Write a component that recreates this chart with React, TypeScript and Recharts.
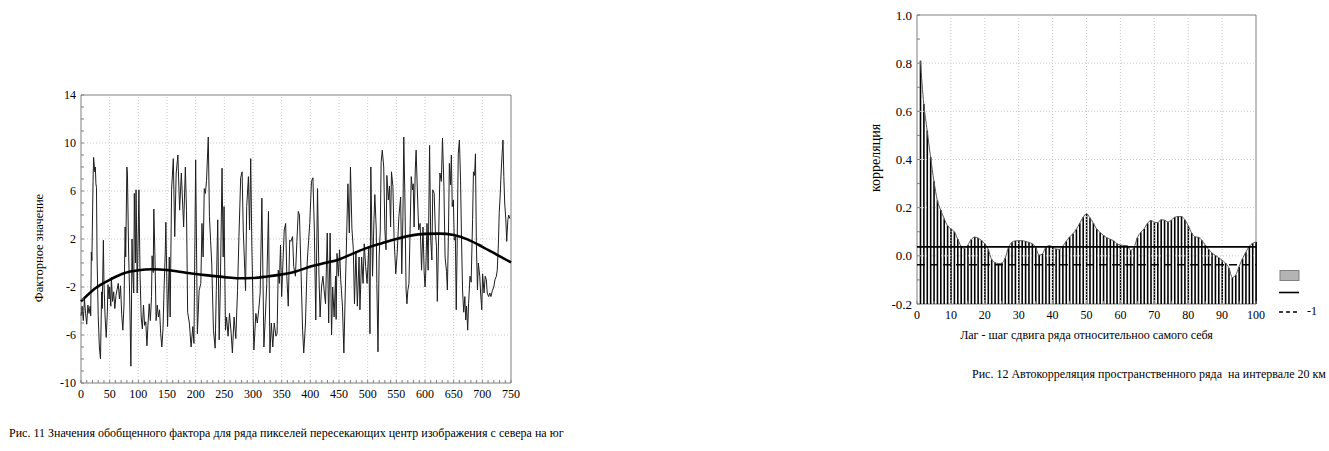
import React from 'react';
import { LineChart, Line, ComposedChart, Bar, XAxis, YAxis, ReferenceLine, ReferenceArea } from 'recharts';

const FONT = '"Liberation Serif", "Times New Roman", serif';
const FRAME = '#7f7f7f';
const GRID = '#c8c8c8';

// Рис. 11 — factor values along the pixel row, [pixel, value]
const FACTOR_POINTS: [number, number][] = [
  [0, -4.4], [2, -3.6], [4, -4.8], [6, -3.0], [8, -4.2], [10, -5.1], [12, -3.5], [14, -4.2], [16, -3.6], [17, -4.4],
  [18, 0.9], [19, 0.2], [21, 6.8], [22, 8.8], [24, 7.6], [25, 8.0], [26, 6.6], [27, 6.3], [28, 0.5], [30, -4.4],
  [32, -7.0], [34, -8.0], [36, -2.4], [37, -3.8], [39, 1.9], [40, -1.5], [42, -4.5], [44, -6.2], [46, -4.0], [47, -1.8],
  [49, -3.0], [50, -2.0], [52, -3.6], [53, -1.2], [55, -3.2], [57, -2.4], [59, -3.8], [61, -2.7], [63, -2.2], [65, -1.7],
  [67, -3.0], [69, -1.9], [71, -4.3], [73, -5.6], [75, -3.5], [77, 3.0], [78, 0.5], [80, 8.0], [81, 7.4], [83, 1.0],
  [85, -3.0], [87, -8.6], [88, -4.0], [89, 2.0], [90, -0.5], [92, -2.5], [93, 5.8], [95, 0.0], [96, 6.1], [97, 2.5],
  [98, -2.5], [100, 3.0], [101, 6.1], [103, -1.0], [105, -4.5], [107, -5.5], [109, -3.5], [111, -5.2], [113, -4.9], [115, -6.9],
  [117, -5.0], [119, -3.4], [121, -4.8], [123, -2.8], [124, 0.6], [126, -0.8], [127, 4.5], [129, 0.5], [131, -4.8], [133, -3.5],
  [135, -4.5], [137, -3.9], [139, -5.9], [141, -7.0], [143, -5.5], [145, -2.0], [147, 1.0], [148, 3.4],
  [151, -5.3], [154, 0.5], [155.5, -4.5], [158, 6.1], [161, 8.7], [163.5, 2.2], [166, 7.5], [169, 9.0], [172, 4.4], [175, 7.5],
  [179, 3.0], [182, 8.0], [184, 4.4], [186, -4.1], [189, -5.0], [192, -7.0], [195, -5.3], [197, -6.7], [200, 8.6], [203, -5.9],
  [206, -2.3], [209, -1.7], [211, 3.3], [213, 0.5], [215, 6.2], [217, 5.8], [219, 6.9], [222, 10.5], [224, 3.9], [226, 1.9],
  [228, 0.0], [231, -5.6], [234, -7.1], [236, -2.3], [238.5, 3.6], [241, -6.4], [243, -2.0], [246, 7.9], [248, 0.5], [249.5, 4.7],
  [252, -5.6], [254, -4.5], [256.5, -6.1], [259, -4.2], [262, -5.9], [264, -7.5], [267, -4.5], [270, -6.3], [273, -2.3], [275.5, 2.2],
  [278.5, 7.1], [281, 7.6], [283, 2.75], [287, -2.3], [289, 4.7], [292, 7.2], [294, 2.75], [296, 8.7], [298, 1.4], [301.5, -7.25],
  [305, -4.2], [307.5, -5.0], [310, -3.9], [312.5, -2.5], [315.5, 5.4], [319, -7.0], [321.5, -4.5], [324, -1.7], [327, 4.3], [329.5, -7.5],
  [332, -5.0], [334.5, -7.0], [337, -5.0], [340, -6.1], [342, -5.9], [344, -0.6], [346, -1.7], [348, 1.5], [350, -2.8], [352, -0.2],
  [354.5, 2.75], [357, 3.3], [359, -1.1], [361.5, -3.6], [364, 1.9], [366, 1.8], [369, 2.2], [371, -0.3], [374, -1.1], [376.5, 1.8],
  [379, 4.3], [381, 4.0], [384, -1.1], [386.5, -5.6], [388.5, -7.5], [391.5, -5.0], [394.5, 0.0], [397, 1.9], [399, 3.3], [402, 6.8],
  [404.5, 7.1], [407, 2.75], [409.5, -4.75], [412.5, 6.2], [415, -0.9], [417, -4.5], [419.5, -2.0], [422, -1.1], [424, -2.25], [426.5, -3.4],
  [429.5, 2.5], [432, -5.0], [434.5, 2.5], [437, -6.0], [439, -2.0], [441.5, -4.5], [444, -1.1], [445, -4.7], [446.5, 0.8], [449, -1.1],
  [451, 1.1], [453, -1.4], [456, -3.6], [458.5, -7.5], [461, -2.25], [463, 1.5], [465.5, 6.6], [468, 2.5], [470, 8.0], [472.5, 2.9],
  [475, 1.1], [477, -3.4], [479.5, 1.0], [482, -3.6], [485, 0.5], [486.5, -3.9], [489.5, 0.5], [492, -1.7], [494, 1.6], [496.5, -0.3],
  [499, -1.7], [502, 1.4], [504, -5.9], [505.5, 8.0], [508.5, -1.1], [511, 3.6], [512.5, 5.7], [515, 2.75], [516, -1.7], [518, -7.4],
  [520, 0.5], [522, 2.75], [523.5, 8.4], [525.5, 9.4], [528, 8.0], [530, 2.75], [532, 1.1], [533.5, 7.3], [536, 5.25], [538, 6.4],
  [540, 3.0], [541.5, 7.6], [544, 6.4], [546, 2.2], [549, -0.9], [551.5, 0.8], [554.5, 3.9], [557.5, 5.5], [559.5, -0.9], [561.5, 3.9],
  [563, 10.5], [565, 5.25], [567, -2.25], [568.5, -3.4], [570, -2.3], [572, -1.7], [574, 2.75], [576, 7.2], [578, 6.1], [579.5, 6.6],
  [581, 3.0], [583, 7.75], [584.5, 9.4], [587, 5.5], [589, 2.75], [591.5, 3.3], [594, -0.6], [596.5, 3.0], [598.5, -0.7], [600, -2.0],
  [601, -1.3], [603.5, 3.3], [605.5, -0.6], [608, 9.8], [610, 1.9], [612, 0.25], [613.5, 6.1], [616, 5.8], [618, 2.75], [620, 1.4],
  [621.5, -3.2], [624, 2.75], [626, 7.5], [628.5, 6.8], [630.5, 10.4], [633, 6.4], [635, 0.5], [637.5, -0.7], [639, -2.25], [641, 2.75],
  [642.5, 8.3], [644.5, 6.5], [646, 9.0], [647.5, 4.7], [649.5, 5.25], [651, 1.9], [653, 2.2], [654.5, -3.9], [656, 1.1], [658, 9.1],
  [660, 10.25], [662, 6.9], [663.5, 2.5], [665.5, -2.25], [667.5, -4.1], [669.5, -2.8], [671, -4.75], [672.5, -3.6], [674.5, -5.6], [676, -3.4],
  [678.5, -1.1], [680.5, -1.6], [683, 3.6], [684.5, 7.6], [686.5, 7.3], [688, 9.1], [689.5, 1.9], [691.5, -2.25], [693, 0.0], [695.5, -1.1],
  [697, -2.5], [699, -3.9], [700.5, -0.9], [703, -2.5], [705, -1.1], [707, -1.4], [708.5, -2.5], [711, -2.8], [713, -2.5], [715, -2.8],
  [717.5, -2.3], [720, -2.0], [722, -1.4], [724.5, -1.1], [726, -0.6], [728, 1.6], [729.5, 4.2], [731, 5.5], [733, 7.75], [734.5, 9.1],
  [736, 10.25], [737.5, 7.2], [739, 5.0], [741, 3.6], [742.5, 1.8], [744.5, 3.6], [746, 4.0], [748, 3.7],
];

// Рис. 11 — smoothed trend, [pixel, value]
const FACTOR_TREND: [number, number][] = [
  [0, -3.2], [25, -2.1], [50, -1.4], [75, -0.85], [100, -0.6], [125, -0.52], [150, -0.58], [175, -0.75], [200, -0.92], [225, -1.05],
  [250, -1.18], [275, -1.27], [300, -1.25], [325, -1.12], [350, -0.95], [375, -0.7], [400, -0.3], [425, 0.0], [450, 0.3], [475, 0.8],
  [500, 1.28], [525, 1.65], [550, 2.0], [575, 2.28], [600, 2.43], [625, 2.45], [650, 2.33], [675, 1.95], [700, 1.35], [725, 0.7], [750, 0.05],
];

const FACTOR_Y_TICKS = [-10, -6, -2, 2, 6, 10, 14];
const FACTOR_X_TICKS = [0, 50, 100, 150, 200, 250, 300, 350, 400, 450, 500, 550, 600, 650, 700, 750];

// Рис. 12 — autocorrelation for lags 1..100
const ACF = [
  0.81, 0.63, 0.52, 0.41, 0.31, 0.23, 0.19, 0.155, 0.125, 0.112,
  0.1, 0.07, 0.04, 0.03, 0.045, 0.068, 0.078, 0.074, 0.064, 0.05,
  0.027, -0.015, -0.028, -0.032, -0.03, -0.01, 0.035, 0.056, 0.062, 0.063,
  0.063, 0.06, 0.056, 0.05, 0.035, 0.003, 0.008, 0.035, 0.042, 0.038,
  0.028, 0.027, 0.04, 0.06, 0.078, 0.092, 0.11, 0.135, 0.16, 0.175,
  0.158, 0.136, 0.111, 0.097, 0.085, 0.075, 0.069, 0.062, 0.05, 0.045,
  0.043, 0.042, 0.023, 0.035, 0.075, 0.098, 0.112, 0.135, 0.147, 0.14,
  0.138, 0.15, 0.148, 0.141, 0.148, 0.16, 0.163, 0.163, 0.15, 0.125,
  0.095, 0.079, 0.077, 0.065, 0.045, 0.027, 0.012, 0.002, -0.008, -0.018,
  -0.03, -0.05, -0.09, -0.08, -0.045, -0.012, 0.015, 0.039, 0.052, 0.057,
];
const CONF_UPPER = 0.037;
const CONF_LOWER = -0.037;
const ACF_Y_TICKS = [-0.2, 0, 0.2, 0.4, 0.6, 0.8, 1.0];
const ACF_X_TICKS = [0, 10, 20, 30, 40, 50, 60, 70, 80, 90, 100];

const factorData = FACTOR_POINTS.map(([x, v]) => ({ x, v }));
const trendData = FACTOR_TREND.map(([x, v]) => ({ x, v }));
const acfData = ACF.map((r, i) => ({ lag: i + 1, r }));

const steps = (from: number, to: number, step: number) => {
  const out: number[] = [];
  for (let i = 0; from + i * step <= to + 1e-9; i++) out.push(Math.round((from + i * step) * 1000) / 1000);
  return out;
};

type Side = 'bottom' | 'top' | 'left' | 'right';
const GAP = 5;
const TICK_LEN = 3;

function edgeTick(side: Side, labelled: number[], fmt: (v: number) => string, fontSize: number) {
  return function EdgeTick(props: any) {
    const { x, y, payload } = props;
    const v = payload.value as number;
    const show = labelled.some((m) => Math.abs(m - v) < 1e-6);
    const txtStyle = { fontFamily: FONT, fontSize };
    if (side === 'bottom') {
      const base = y - GAP;
      return (
        <g>
          <line x1={x} x2={x} y1={base} y2={base - TICK_LEN} stroke={FRAME} />
          {show && <text x={x} y={y} dy="0.8em" textAnchor="middle" fill="#000" style={txtStyle}>{fmt(v)}</text>}
        </g>
      );
    }
    if (side === 'left') {
      const base = x + GAP;
      return (
        <g>
          <line x1={base} x2={base + TICK_LEN} y1={y} y2={y} stroke={FRAME} />
          {show && <text x={x} y={y} dy="0.35em" textAnchor="end" fill="#000" style={txtStyle}>{fmt(v)}</text>}
        </g>
      );
    }
    if (side === 'top') return <line x1={x} x2={x} y1={y} y2={y + TICK_LEN} stroke={FRAME} />;
    return <line x1={x - TICK_LEN} x2={x} y1={y} y2={y} stroke={FRAME} />;
  };
}

const RotatedLabel = ({ cx, cy, text, size }: any) => (
  <text x={cx} y={cy} transform={`rotate(-90 ${cx} ${cy})`} textAnchor="middle" dominantBaseline="middle"
    fill="#000" style={{ fontFamily: FONT, fontSize: size }}>{text}</text>
);

const BottomLabel = ({ viewBox, text, dy, size }: any) => (
  <text x={viewBox.x + viewBox.width / 2} y={viewBox.y + dy} textAnchor="middle" dominantBaseline="middle"
    fill="#000" style={{ fontFamily: FONT, fontSize: size }}>{text}</text>
);

const FactorChart = () => {
  const xMinor = steps(0, 750, 10);
  const yMinor = steps(-10, 14, 1);
  return (
    <LineChart width={560} height={410} margin={{ top: 95, right: 49, bottom: 7, left: 0 }}>
      {FACTOR_X_TICKS.slice(1, -1).map((t) => (
        <ReferenceLine key={`vx${t}`} x={t} stroke={GRID} strokeDasharray="1 2" />
      ))}
      {FACTOR_Y_TICKS.slice(1, -1).map((t) => (
        <ReferenceLine key={`hy${t}`} y={t} stroke={GRID} strokeDasharray="1 2" />
      ))}
      <XAxis type="number" dataKey="x" domain={[0, 750]} ticks={xMinor} interval={0} height={20}
        axisLine={false} tickLine={false} tickSize={0} tickMargin={GAP}
        tick={edgeTick('bottom', FACTOR_X_TICKS, (v) => String(v), 12)} />
      <XAxis xAxisId="top" orientation="top" type="number" domain={[0, 750]} ticks={xMinor} interval={0} height={0}
        axisLine={false} tickLine={false} tickSize={0} tickMargin={0} tick={edgeTick('top', [], String, 12)} />
      <YAxis type="number" domain={[-10, 14]} ticks={yMinor} interval={0} width={81}
        axisLine={false} tickLine={false} tickSize={0} tickMargin={GAP}
        tick={edgeTick('left', FACTOR_Y_TICKS, (v) => String(v), 12)}
        label={<RotatedLabel cx={40} cy={248} text="Факторное значение" size={12.5} />} />
      <YAxis yAxisId="right" orientation="right" type="number" domain={[-10, 14]} ticks={yMinor} interval={0} width={0}
        axisLine={false} tickLine={false} tickSize={0} tickMargin={0} tick={edgeTick('right', [], String, 12)} />
      <Line data={factorData} dataKey="v" type="linear" stroke="#1e1e1e" strokeWidth={1} dot={false} isAnimationActive={false} />
      <Line data={trendData} dataKey="v" type="monotone" stroke="#000" strokeWidth={2.6} dot={false} isAnimationActive={false} />
      <ReferenceArea x1={0} x2={750} y1={-10} y2={14} fill="none" stroke={FRAME} strokeOpacity={1} />
    </LineChart>
  );
};

const AcfChart = () => {
  const xMinor = steps(0, 100, 5);
  const yMinor = steps(-0.2, 1.0, 0.1);
  return (
    <ComposedChart width={489} height={350} data={acfData} margin={{ top: 15, right: 73, bottom: 16, left: 0 }}>
      {ACF_X_TICKS.slice(1, -1).map((t) => (
        <ReferenceLine key={`vx${t}`} x={t} stroke={GRID} strokeDasharray="1 2" />
      ))}
      {ACF_Y_TICKS.slice(1, -1).map((t) => (
        <ReferenceLine key={`hy${t}`} y={t} stroke={GRID} strokeDasharray="1 2" />
      ))}
      <XAxis type="number" dataKey="lag" domain={[0, 100]} ticks={xMinor} interval={0} height={30}
        axisLine={false} tickLine={false} tickSize={0} tickMargin={GAP}
        tick={edgeTick('bottom', ACF_X_TICKS, (v) => String(v), 12)}
        label={<BottomLabel text="Лаг - шаг сдвига ряда относительноо самого себя" dy={32} size={12} />} />
      <XAxis xAxisId="top" orientation="top" type="number" domain={[0, 100]} ticks={xMinor} interval={0} height={0}
        axisLine={false} tickLine={false} tickSize={0} tickMargin={0} tick={edgeTick('top', [], String, 12)} />
      <YAxis type="number" domain={[-0.2, 1.0]} ticks={yMinor} interval={0} width={77}
        axisLine={false} tickLine={false} tickSize={0} tickMargin={GAP}
        tick={edgeTick('left', ACF_Y_TICKS, (v) => v.toFixed(1), 13)}
        label={<RotatedLabel cx={37} cy={158} text="корреляция" size={14} />} />
      <YAxis yAxisId="right" orientation="right" type="number" domain={[-0.2, 1.0]} ticks={yMinor} interval={0} width={0}
        axisLine={false} tickLine={false} tickSize={0} tickMargin={0} tick={edgeTick('right', [], String, 12)} />
      <Bar dataKey={(d: any) => [-0.2, d.r]} barSize={1.6} fill="#000" isAnimationActive={false} />
      <Line dataKey="r" type="monotone" stroke="#555" strokeWidth={1} dot={false} isAnimationActive={false} />
      <ReferenceLine y={CONF_UPPER} stroke="#000" strokeWidth={1.6} />
      <ReferenceLine y={CONF_LOWER} stroke="#000" strokeWidth={1.6} strokeDasharray="8 5" />
      <ReferenceArea x1={0} x2={100} y1={-0.2} y2={1.0} fill="none" stroke={FRAME} strokeOpacity={1} />
    </ComposedChart>
  );
};

const AcfLegend = () => (
  <svg width={59} height={62} style={{ position: 'absolute', left: 1270, top: 260 }}>
    <rect x={10} y={10.5} width={19} height={10} fill="#b4b4b4" stroke="#808080" />
    <line x1={9} x2={29} y1={32.5} y2={32.5} stroke="#000" strokeWidth={1.6} />
    <line x1={9} x2={29} y1={52} y2={52} stroke="#000" strokeWidth={1.4} strokeDasharray="4 3" />
    <text x={37} y={52} dominantBaseline="middle" fill="#000" style={{ fontFamily: FONT, fontSize: 12 }}>-1</text>
  </svg>
);

const caption: React.CSSProperties = {
  position: 'absolute', fontFamily: FONT, fontSize: 12, color: '#000', whiteSpace: 'pre', lineHeight: '14px',
};

export default function App() {
  return (
    <div style={{ position: 'absolute', left: 0, top: 0, width: 1329, height: 451, background: '#fff', overflow: 'hidden' }}>
      <div style={{ position: 'absolute', left: 0, top: 0 }}>
        <FactorChart />
      </div>
      <div style={{ position: 'absolute', left: 840, top: 0 }}>
        <AcfChart />
      </div>
      <AcfLegend />
      <div style={{ ...caption, left: 9, top: 426 }}>
        Рис. 11 Значения обобщенного фактора для ряда пикселей пересекающих центр изображения с севера на юг
      </div>
      <div style={{ ...caption, left: 972, top: 367 }}>Рис. 12 Автокорреляция пространственного ряда  на интервале 20 км</div>
    </div>
  );
}
